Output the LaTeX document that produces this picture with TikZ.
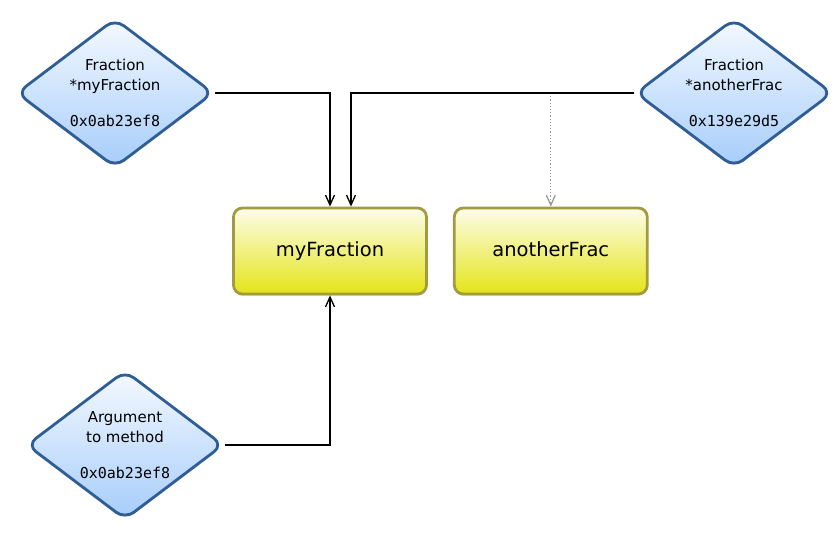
\documentclass[tikz,border=0pt]{standalone}
\usepackage{fontspec}
\usepackage{tikz}
\usepackage{xcolor}
\setmainfont{DejaVu Sans}
\setmonofont{DejaVu Sans Mono}
\usetikzlibrary{shapes,arrows.meta,positioning,shadows,shapes.geometric}
\definecolor{ptrline}{RGB}{47, 93, 149}
\definecolor{ptrtop}{RGB}{244, 249, 255}
\definecolor{ptrbottom}{RGB}{166, 205, 250}
\definecolor{objline}{RGB}{163, 155, 65}
\definecolor{objtop}{RGB}{253, 253, 235}
\definecolor{objbottom}{RGB}{228, 228, 23}
\definecolor{wire}{RGB}{0, 0, 0}
\definecolor{weakwire}{RGB}{150, 150, 150}
\tikzstyle{pointer} = [
    diamond,
    aspect=1.32,
    rounded corners=11pt,
    minimum width=197pt,
    minimum height=149pt,
    inner sep=0pt,
    align=center,
    draw=ptrline,
    line width=2.8pt,
    top color=ptrtop,
    bottom color=ptrbottom,
    drop shadow={opacity=0.25, shadow xshift=0pt, shadow yshift=-2pt},
    font=\fontsize{15}{20}\selectfont
]
\tikzstyle{object} = [
    rectangle,
    rounded corners=9pt,
    minimum width=193pt,
    minimum height=86pt,
    text height=14pt,
    text depth=4pt,
    text centered,
    draw=objline,
    line width=2.8pt,
    top color=objtop,
    bottom color=objbottom,
    drop shadow={opacity=0.25, shadow xshift=0pt, shadow yshift=-2pt},
    font=\fontsize{19.5}{22}\selectfont
]
\tikzstyle{arrow} = [
    line width=1.3pt,
    -{Straight Barb[length=10pt,width=9pt]},
    draw=wire
]
\tikzstyle{weak} = [
    line width=1.2pt,
    dash pattern=on 1.2pt off 2pt,
    -{Straight Barb[length=10pt,width=9pt]},
    draw=weakwire
]

\begin{document}
\begin{tikzpicture}[x=1pt, y=-1pt]
        \useasboundingbox (0,0) rectangle (836,533);

        \node[object] (myobj) at (330,251) {myFraction};
        \node[object, right=25pt of myobj] (otherobj) {anotherFrac};

        \node[pointer] (myptr) at (115,93) {Fraction\\*myFraction\\[16pt]{\ttfamily 0x0ab23ef8}};
        \node[pointer] (otherptr) at (734,93) {Fraction\\*anotherFrac\\[16pt]{\ttfamily 0x139e29d5}};
        \node[pointer] (argptr) at (125,445) {Argument\\to method\\[16pt]{\ttfamily 0x0ab23ef8}};

        \draw[weak] (otherptr.west) -| (otherobj.north);
        \draw[arrow] (myptr.east) -| (myobj.north);
        \draw[arrow] (otherptr.west) -| ([xshift=21pt]myobj.north);
        \draw[arrow] (argptr.east) -| (myobj.south);
    \end{tikzpicture}
\end{document}
